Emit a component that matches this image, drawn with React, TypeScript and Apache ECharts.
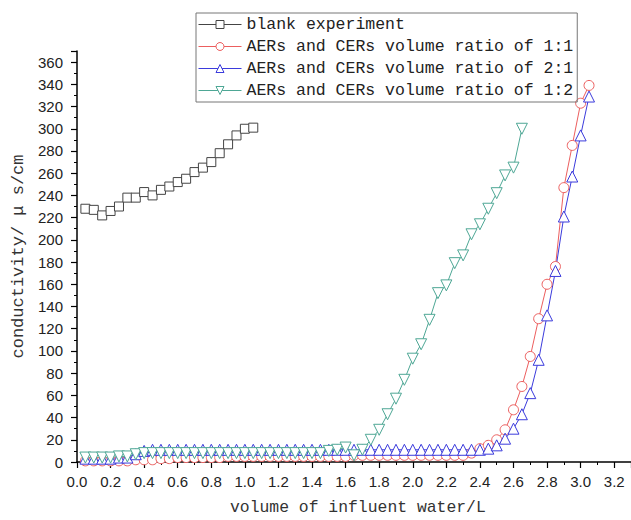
import { useEffect, useRef } from 'react';
import * as echarts from 'echarts';

const X = [0.05, 0.1, 0.15, 0.2, 0.25, 0.3, 0.35, 0.4, 0.45, 0.5, 0.55, 0.6, 0.65, 0.7, 0.75, 0.8, 0.85, 0.9, 0.95, 1.0,
  1.05, 1.1, 1.15, 1.2, 1.25, 1.3, 1.35, 1.4, 1.45, 1.5, 1.55, 1.6, 1.65, 1.7, 1.75, 1.8, 1.85, 1.9, 1.95, 2.0,
  2.05, 2.1, 2.15, 2.2, 2.25, 2.3, 2.35, 2.4, 2.45, 2.5, 2.55, 2.6, 2.65, 2.7, 2.75, 2.8, 2.85, 2.9, 2.95, 3.0, 3.05];

const SERIES_NAMES = [
  'blank experiment',
  'AERs and CERs volume ratio of 1:1',
  'AERs and CERs volume ratio of 2:1',
  'AERs and CERs volume ratio of 1:2',
];

const blank = [228, 227, 222, 226, 230, 238, 238, 243, 240, 245, 248, 252, 255, 261, 265, 270, 278, 286, 294, 300, 301];

const ratio11 = [1, 1, 1, 1, 1, 1,
  2, 2, 2, 3, 3, 4, 4, 4, 4, 4, 4, 5, 5, 5,
  5, 5, 5, 5, 5, 5, 5, 5, 5, 5, 5, 5, 6, 6, 6, 6, 6, 6, 6, 6, 6, 6, 6, 6, 6, 6,
  8, 12, 15, 20, 29, 47, 68, 95, 129, 160, 176, 247, 285, 323, 339];

const ratio21 = [3, 3, 3, 3, 4, 4, 7, 10,
  11, 11, 11, 11, 11, 11, 11, 11, 11, 11, 11, 11, 11, 11, 11, 11, 11, 11, 11, 11,
  11, 11, 11, 11, 11, 11, 11, 11, 11, 11, 11, 11, 11, 11, 11, 11, 11, 11, 11,
  11, 12, 15, 21, 30, 43, 62, 92, 132, 172, 221, 257, 294, 329];

const ratio12 = [4, 4, 4, 4, 5, 5, 7, 8,
  8, 8, 8, 8, 8, 8, 8, 8, 8, 8, 8, 8, 8, 8, 8, 8, 8, 8, 8, 8, 8,
  10, 11, 13, 6, 11, 20, 29, 43, 57, 74, 93, 106, 128, 152, 159, 179, 186, 205, 214, 228, 242, 258, 265, 300];

const COLORS = ['#444444', '#ec5e5e', '#3b3bdc', '#4ea795'];
const SYMBOLS = ['rect', 'circle', 'triangle', 'triangle'];
const SYMBOL_SIZES = [9, 10, 11, 11];
const SYMBOL_ROTATE = [0, 0, 0, 180];

const pair = (vals: number[]) => vals.map((v, i) => [X[i], v]);

export default function App() {
  const ref = useRef<HTMLDivElement>(null);
  useEffect(() => {
    if (!ref.current) return;
    const chart = echarts.init(ref.current, null, { renderer: 'svg' });
    const datasets = [blank, ratio11, ratio21, ratio12];
    const mono = 'Liberation Mono';
    chart.setOption({
      animation: false,
      backgroundColor: '#ffffff',
      grid: { left: 77, top: 51, width: 556, height: 411, containLabel: false },
      legend: {
        orient: 'vertical',
        left: 196,
        top: 13,
        padding: [3, 4, 3, 2],
        itemWidth: 43,
        itemHeight: 10,
        itemGap: 5,
        borderColor: '#777',
        borderWidth: 1,
        data: SERIES_NAMES,
        lineStyle: { width: 1 },
        itemStyle: { borderWidth: 1 },
        textStyle: { fontFamily: mono, fontSize: 16.5, color: '#222', lineHeight: 17 },
      },
      xAxis: {
        type: 'value',
        min: 0,
        max: 3.3,
        interval: 0.2,
        axisLine: { lineStyle: { color: '#000', width: 1.5 } },
        axisTick: { length: 6, lineStyle: { color: '#000', width: 1.2 } },
        minorTick: { show: true, splitNumber: 2, length: 3, lineStyle: { color: '#000', width: 1 } },
        splitLine: { show: false },
        axisLabel: {
          showMaxLabel: false,
          margin: 12,
          fontFamily: 'Liberation Sans',
          fontSize: 15,
          color: '#222',
          formatter: (v: number) => v.toFixed(1),
        },
      },
      yAxis: {
        type: 'value',
        min: 0,
        max: 370,
        interval: 20,
        name: 'conductivity/ μ s/cm',
        nameLocation: 'middle',
        nameGap: 42,
        nameTextStyle: { fontFamily: mono, fontSize: 17, color: '#333' },
        axisLine: { show: true, lineStyle: { color: '#000', width: 1.5 } },
        axisTick: { show: true, length: 6, lineStyle: { color: '#000', width: 1.2 } },
        minorTick: { show: true, splitNumber: 2, length: 3, lineStyle: { color: '#000', width: 1 } },
        splitLine: { show: false },
        axisLabel: {
          showMaxLabel: false,
          margin: 14,
          fontFamily: 'Liberation Sans',
          fontSize: 15,
          color: '#222',
        },
      },
      graphic: [
        {
          type: 'text',
          left: 230,
          top: 499,
          style: { text: 'volume of influent water/L', font: `16.4px "${mono}"`, fill: '#333' },
        },
      ],
      series: datasets.map((vals, i) => ({
        name: SERIES_NAMES[i],
        type: 'line',
        data: pair(vals),
        symbol: SYMBOLS[i],
        symbolSize: SYMBOL_SIZES[i],
        symbolRotate: SYMBOL_ROTATE[i],
        showAllSymbol: true,
        lineStyle: { color: COLORS[i], width: 1 },
        itemStyle: { color: '#ffffff', borderColor: COLORS[i], borderWidth: 1 },
        emphasis: { disabled: true },
      })),
    });
    return () => chart.dispose();
  }, []);
  return <div ref={ref} style={{ position: 'absolute', left: 0, top: 0, width: 631, height: 520 }} />;
}
